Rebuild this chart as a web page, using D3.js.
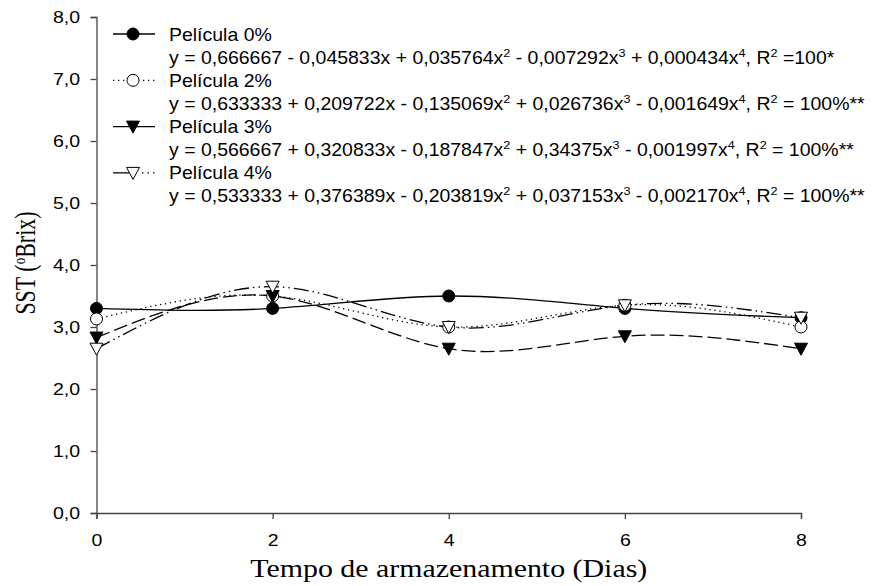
<!DOCTYPE html>
<html>
<head>
<meta charset="utf-8">
<script src="https://cdn.jsdelivr.net/npm/d3@7"></script>
<style>
  body { margin: 0; background: #fff; }
  svg text { fill: #000; }
</style>
</head>
<body>
<svg id="chart" width="872" height="586"></svg>
<script>
const days = [0, 2, 4, 6, 8];
const yTicks = [0, 1, 2, 3, 4, 5, 6, 7, 8];
const xTicks = [0, 2, 4, 6, 8];

const pelicula0 = [3.3, 3.3, 3.5, 3.3, 3.15];
const pelicula2 = [3.13, 3.5, 3.0, 3.35, 3.0];
const pelicula3 = [2.83, 3.5, 2.65, 2.85, 2.65];
const pelicula4 = [2.65, 3.65, 3.0, 3.35, 3.15];

const seriesNames = ['Película 0%', 'Película 2%', 'Película 3%', 'Película 4%'];
const equations = [
  ['y = 0,666667 - 0,045833x + 0,035764x', '2', ' - 0,007292x', '3', ' + 0,000434x', '4', ', R', '2', ' =100*'],
  ['y = 0,633333 + 0,209722x - 0,135069x', '2', ' + 0,026736x', '3', ' - 0,001649x', '4', ', R', '2', ' = 100%**'],
  ['y = 0,566667 + 0,320833x - 0,187847x', '2', ' + 0,34375x', '3', ' - 0,001997x', '4', ', R', '2', ' = 100%**'],
  ['y = 0,533333 + 0,376389x - 0,203819x', '2', ' + 0,037153x', '3', ' - 0,002170x', '4', ', R', '2', ' = 100%**']
];

const series = [
  { values: pelicula0, dash: null, legendDash: null, marker: 'circle', fill: '#000' },
  { values: pelicula2, dash: '1.3,3.7', legendDash: '1.3,3.7', marker: 'circle', fill: '#fff' },
  { values: pelicula3, dash: '14,5', legendDash: null, marker: 'triangle', fill: '#000' },
  { values: pelicula4, dash: '15,4,1.5,4,1.5,4', legendDash: '16,13,1.5,4,1.5,4,1.5,10', marker: 'triangle', fill: '#fff' }
];

// the original picture is a bit wider than tall, so text is stretched sideways
const sxTick = 1.22, sxLegend = 1.1;

const svg = d3.select('#chart');
const x = d3.scaleLinear().domain([0, 8]).range([96.5, 801]);
const y = d3.scaleLinear().domain([0, 8]).range([513, 17]);

const fmt = d => d.toFixed(1).replace('.', ',');

// axes
const yAxis = svg.append('g')
  .attr('transform', `translate(${x(0)},0)`)
  .call(d3.axisLeft(y).tickValues(yTicks).tickFormat(fmt).tickSize(6).tickPadding(7.5));
const xAxis = svg.append('g')
  .attr('transform', `translate(0,${y(0)})`)
  .call(d3.axisBottom(x).tickValues(xTicks).tickFormat(d3.format('d')).tickSize(6).tickPadding(16));
[yAxis, xAxis].forEach(a => {
  a.select('.domain').attr('stroke', '#444').attr('stroke-width', 1.3);
  a.selectAll('.tick line').attr('stroke', '#444').attr('stroke-width', 1.3);
  a.selectAll('.tick text')
    .attr('font-family', 'Liberation Sans, Arial, sans-serif')
    .attr('font-size', 16)
    .attr('transform', `scale(${sxTick},1)`);
});

// axis titles
svg.append('text')
  .attr('transform', `translate(${(x(0) + x(8)) / 2},577) scale(1.15,1)`)
  .attr('text-anchor', 'middle')
  .attr('font-family', 'Liberation Serif, Times New Roman, serif')
  .attr('font-size', 26)
  .text('Tempo de armazenamento (Dias)');

const yTitle = svg.append('text')
  .attr('transform', `translate(35,263) scale(1.3,1) rotate(-90)`)
  .attr('text-anchor', 'middle')
  .attr('font-family', 'Liberation Serif, Times New Roman, serif')
  .attr('font-size', 22);
yTitle.append('tspan').text('SST (');
yTitle.append('tspan').attr('font-size', 13).attr('dy', -8).text('o');
yTitle.append('tspan').attr('dy', 8).text('Brix)');

// lines
const line = d3.line()
  .x((d, i) => x(days[i]))
  .y(d => y(d))
  .curve(d3.curveNatural);

function drawMarker(g, s, cx, cy) {
  if (s.marker === 'circle') {
    g.append('circle').attr('cx', cx).attr('cy', cy).attr('r', 6)
      .attr('fill', s.fill).attr('stroke', '#000').attr('stroke-width', 1);
  } else {
    g.append('path')
      .attr('d', `M${cx - 6.5},${cy - 5.5} L${cx + 6.5},${cy - 5.5} L${cx},${cy + 6.5} Z`)
      .attr('fill', s.fill).attr('stroke', '#000').attr('stroke-width', 1);
  }
}

series.forEach(s => {
  svg.append('path')
    .datum(s.values)
    .attr('d', line)
    .attr('fill', 'none')
    .attr('stroke', '#000')
    .attr('stroke-width', 1.3)
    .attr('stroke-dasharray', s.dash);
});
const marks = svg.append('g');
series.forEach(s => {
  s.values.forEach((v, i) => drawMarker(marks, s, x(days[i]), y(v)));
});

// legend
const legend = svg.append('g')
  .attr('font-family', 'Liberation Sans, Arial, sans-serif')
  .attr('font-size', 17.7);
const rowStep = 46.3;
series.forEach((s, i) => {
  const ly = 34 + i * rowStep;
  legend.append('line')
    .attr('x1', 113).attr('x2', 155).attr('y1', ly).attr('y2', ly)
    .attr('stroke', '#000').attr('stroke-width', 1.3)
    .attr('stroke-dasharray', s.legendDash);
  drawMarker(legend, s, 133, ly);
  legend.append('text')
    .attr('transform', `translate(169,${ly + 6.5}) scale(${sxLegend},1)`)
    .text(seriesNames[i]);
  const eq = legend.append('text')
    .attr('transform', `translate(169,${ly + 29.5}) scale(${sxLegend},1)`);
  equations[i].forEach((part, k) => {
    const sup = k % 2 === 1;
    eq.append('tspan')
      .attr('font-size', sup ? 11.5 : 17.7)
      .attr('dy', sup ? -7 : (k > 0 ? 7 : 0))
      .text(part);
  });
});
</script>
</body>
</html>
